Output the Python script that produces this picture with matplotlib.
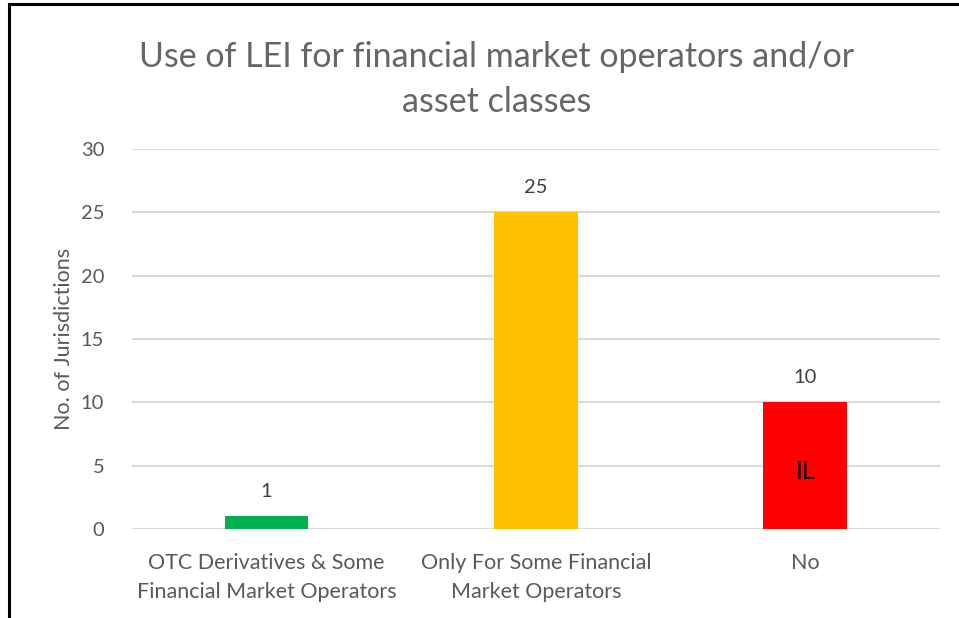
import matplotlib
matplotlib.use("Agg")
import matplotlib.pyplot as plt

categories = ["OTC Derivatives & Some\nFinancial Market Operators",
              "Only For Some Financial\nMarket Operators",
              "No"]
values = [1, 25, 10]
colors = ["#00b050", "#ffc000", "#ff0000"]
yticks = [0, 5, 10, 15, 20, 25, 30]

plt.rcParams['font.family'] = ['Lato', 'DejaVu Sans']
grey = "#595959"

fig = plt.figure(figsize=(9.59, 6.18), dpi=100)
ax = fig.add_axes([0.1376, 0.144, 0.8424, 0.615])

x = list(range(len(categories)))
bars = ax.bar(x, values, width=0.31, color=colors, zorder=3)

ax.set_xlim(-0.5, 2.5)
ax.set_ylim(0, 30)
ax.set_yticks(yticks)
ax.set_xticks(x)
ax.set_xticklabels(categories, fontsize=15.5, color=grey, linespacing=1.6)
ax.tick_params(axis='y', labelsize=14.5, labelcolor=grey, length=0, pad=20)
ax.tick_params(axis='x', length=0, pad=17)
ax.grid(axis='y', color="#d9d9d9", linewidth=1.5, zorder=0)
for s in ax.spines.values():
    s.set_visible(False)

ax.set_ylabel("No. of Jurisdictions", fontsize=15.5, color=grey, labelpad=5)

for b, v in zip(bars, values):
    ax.text(b.get_x() + b.get_width() / 2, v + 1.3, str(v), ha='center',
            va='bottom', fontsize=14.5, color="#404040")

ax.text(bars[2].get_x() + bars[2].get_width() / 2, 4.5, "IL", ha='center',
        va='center', fontsize=18, color="black")

fig.text(0.518, 0.871, "Use of LEI for financial market operators and/or\nasset classes",
         ha='center', va='center', fontsize=24.5, color="#666666", linespacing=1.5)

# frame lines (left and top) like the screenshot
fig.add_artist(plt.Line2D([0.0094, 0.0094], [0, 0.993], transform=fig.transFigure,
                          color="black", linewidth=2.2))
fig.add_artist(plt.Line2D([0.0094, 1.0], [0.993, 0.993], transform=fig.transFigure,
                          color="black", linewidth=2.2))

fig.savefig("out.png", dpi=100)
